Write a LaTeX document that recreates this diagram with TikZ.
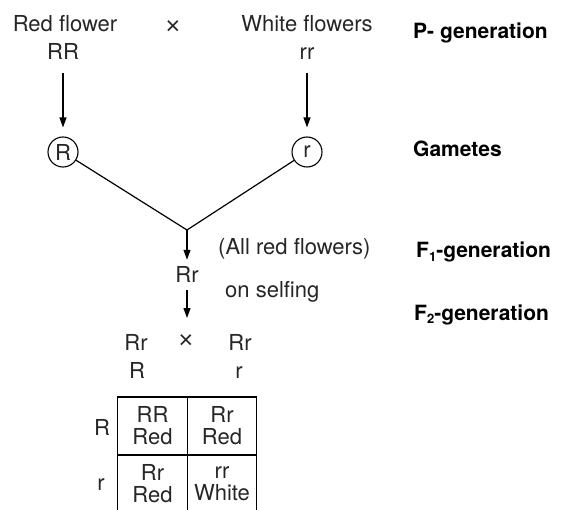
\documentclass[tikz,border=0pt]{standalone}
\usepackage{fontspec}
\setmainfont{TeX Gyre Heros}
\newfontfamily\crossfont{Liberation Sans}
\usetikzlibrary{arrows.meta}
\newcommand{\lowsub}[1]{\raisebox{-0.35ex}{\fontsize{13}{13}\selectfont #1}}
\begin{document}
\begin{tikzpicture}[x=1pt,y=-1pt,
  txt/.style={font=\fontsize{22}{22}\selectfont, text=black!85, inner sep=0pt, anchor=base},
  crosssign/.style={font=\crossfont\fontsize{25}{25}\selectfont, text=black!85, inner sep=0pt},
  gen/.style={font=\fontsize{21}{22}\selectfont\bfseries, inner sep=0pt, anchor=base west},
  gamete/.style={draw, circle, minimum size=30pt, inner sep=0pt, line width=1.1pt,
    text=black!85, font=\fontsize{22}{22}\selectfont},
  cell/.style={draw, line width=1.2pt, minimum width=69.5pt, minimum height=58pt,
    inner sep=0pt, align=center, text=black!85, font=\fontsize{22}{22}\selectfont},
  link/.style={line width=1.2pt},
  arr/.style={link, -{Triangle[length=10pt,width=7pt]}},
]
\useasboundingbox (0,0) rectangle (564,510);
\clip (0,0) rectangle (564,510);

% parents
\node[txt] (redp) at (65,32) {Red flower};
\node[txt] (RR) at (63,60) {RR};
\node[crosssign] (cross1) at (173,28) {×};
\node[txt] (whitep) at (307,32) {White flowers};
\node[txt] (rr) at (307,60) {rr};

% gametes
\node[gamete] (gR) at (63,152) {R};
\node[gamete] (gr) at (307,152) {r};
\draw[arr, shorten <=13pt, shorten >=9pt] (RR) -- (gR);
\draw[arr, shorten <=13pt, shorten >=9pt] (rr) -- (gr);

% fusion and F1
\coordinate (apex) at (187,230);
\draw[link] (gR) -- (apex) -- (gr);
\node[txt] (F1) at (187,283) {Rr};
\draw[arr, shorten >=7pt] (apex) -- (F1);
\node[txt, anchor=base west] (allred) at (218,255) {(All red flowers)};
\coordinate (F2top) at (187,318);
\draw[arr, shorten <=7pt] (F1) -- (F2top);
\node[txt, anchor=base west] (selfing) at (225,298) {on selfing};

% generation labels
\node[gen] (Pgen) at (413,39) {P- generation};
\node[gen] (Gam) at (413,157) {Gametes};
\node[gen] (F1gen) at (416,258) {F\lowsub{1}-generation};
\node[gen] (F2gen) at (414,320) {F\lowsub{2}-generation};

% selfing cross
\node[txt] (p1) at (136,350) {Rr};
\node[crosssign] (cross2) at (186,342) {×};
\node[txt] (p2) at (240,350) {Rr};
\node[txt] (g1) at (137,378) {R};
\node[txt] (g2) at (239,378) {r};

% Punnett square
\node[txt] (rowR) at (102,435) {R};
\node[txt] (rowr) at (101,490) {r};
\node[cell] (c11) at (152.5,426) {RR\\Red};
\node[cell] (c12) at (222,426) {Rr\\Red};
\node[cell] (c21) at (152.5,484) {Rr\\Red};
\node[cell] (c22) at (222,484) {rr\\White};
\end{tikzpicture}
\end{document}
